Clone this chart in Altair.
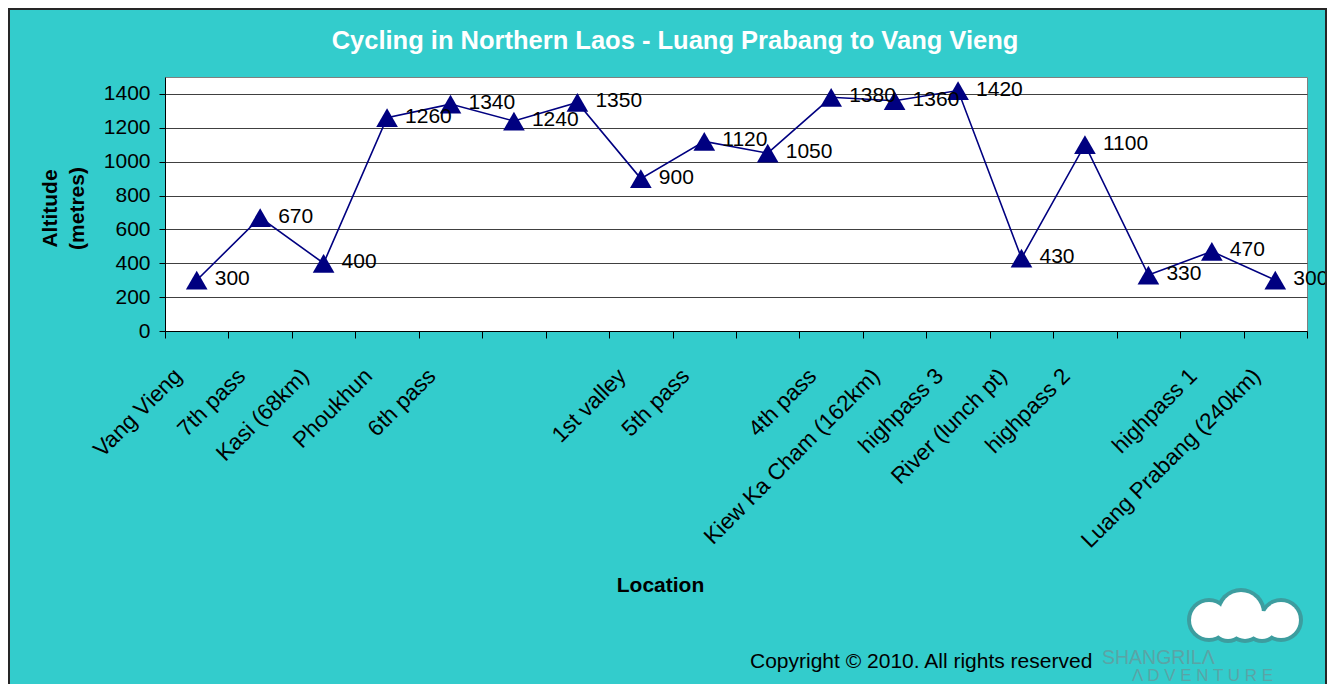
import altair as alt
import pandas as pd

# ---- data -------------------------------------------------------------
locations = ["Vang Vieng", "7th pass", "Kasi (68km)", "Phoukhun", "6th pass", "", "",
             "1st valley", "5th pass", "", "4th pass", "Kiew Ka Cham (162km)",
             "highpass 3", "River (lunch pt)", "highpass 2", "", "highpass 1",
             "Luang Prabang (240km)"]
altitudes = [300, 670, 400, 1260, 1340, 1240, 1350, 900, 1120, 1050, 1380, 1360,
             1420, 430, 1100, 330, 470, 300]
y_ticks = [0, 200, 400, 600, 800, 1000, 1200, 1400]

title_text = "Cycling in Northern Laos - Luang Prabang to Vang Vieng"
x_title = "Location"
y_title = ["Altitude", "(metres)"]
copyright_text = "Copyright \u00a9 2010. All rights reserved"
logo_line1 = "SHANGRIL\u039b"
logo_line2 = "\u039b D V E N T U R E"

# cloud decoration (screen px: cx, cy, outer radius)
cloud_cx = [1241, 1209, 1281, 1245, 1228, 1262]
cloud_cy = [613, 620, 620, 624, 625, 625]
cloud_r = [25, 22, 22, 19, 18, 18]

# ---- layout ------------------------------------------------------------
W, H = 1142, 254
PL, PT, PR, PB = 157, 69, 20, 353
OX, OY = 165, 77  # screen position of plot area

FONT = "Liberation Sans"
NAVY = "#000080"
BG = "#33CCCC"

df = pd.DataFrame({"idx": list(range(len(altitudes))), "alt": altitudes})
label_expr = "[" + ",".join("'" + s.replace("'", "\\'") + "'" for s in locations) + "][datum.value]"

x_enc = alt.X("idx:O",
              scale=alt.Scale(type="band", paddingInner=0, paddingOuter=0),
              axis=alt.Axis(title=x_title, labelExpr=label_expr, labelAngle=-45,
                            labelAlign="right", labelBaseline="alphabetic",
                            labelOffset=-14, labelPadding=39, labelOverlap=False,
                            labelBound=False, labelFlush=False, labelLimit=0,
                            labelFontSize=22.5, labelFont=FONT, labelColor="black",
                            tickBand="extent", tickSize=7, tickColor="black",
                            domainColor="black", grid=False,
                            titleFont=FONT, titleFontSize=21, titleFontWeight="bold",
                            titleColor="black", titleX=495, titleY=260,
                            titleAlign="center", titleBaseline="alphabetic"))
y_enc = alt.Y("alt:Q",
              scale=alt.Scale(domain=[0, 1500], nice=False),
              axis=alt.Axis(title=y_title, values=y_ticks, format="d", grid=True,
                            labelOverlap=False,
                            gridColor="#404040", gridWidth=1,
                            labelFontSize=21, labelFont=FONT, labelColor="black",
                            labelPadding=9, tickSize=6, tickColor="black",
                            domainColor="black",
                            titleFont=FONT, titleFontSize=21, titleFontWeight="bold",
                            titleColor="black", titleX=-109, titleY=131,
                            titleAngle=-90, titleAlign="center",
                            titleBaseline="alphabetic", titleLineHeight=27))

base = alt.Chart(df)
line = base.mark_line(color=NAVY, strokeWidth=1.6).encode(x=x_enc, y=y_enc)
pts = base.mark_point(shape="triangle-up", filled=True, color=NAVY, size=470,
                      opacity=1).encode(x=x_enc, y=y_enc)
labels = base.mark_text(align="left", baseline="middle", dx=18, dy=-1,
                        font=FONT, fontSize=21, color="black").encode(
    x=x_enc, y=y_enc, text="alt:Q")

one = alt.Data(values=[{"a": 1}])


def txt(text, x, y, size, weight="normal", color="black", align="left", font=FONT):
    return alt.Chart(one).mark_text(text=text, align=align, baseline="alphabetic",
                                    font=font, fontSize=size, fontWeight=weight,
                                    color=color).encode(x=alt.value(x), y=alt.value(y))


title = txt(title_text, 675 - OX, 49 - OY, 25.5, "bold", "white", "center")
copy = txt(copyright_text, 750 - OX, 668 - OY, 21)
logo1 = txt(logo_line1, 1102 - OX, 664 - OY, 19.5, color="#5aa4a6")
logo2 = txt(logo_line2, 1132 - OX, 681 - OY, 17, color="#5aa4a6")

cloud_df = pd.DataFrame({"cx": [c - OX for c in cloud_cx],
                         "cy": [c - OY for c in cloud_cy],
                         "outer": [(2 * r) ** 2 for r in cloud_r],
                         "inner": [(2 * (r - 4)) ** 2 for r in cloud_r]})
cloud_out = alt.Chart(cloud_df).mark_circle(color="#3d9d9f", opacity=1).encode(
    x=alt.X("cx:Q", scale=None), y=alt.Y("cy:Q", scale=None),
    size=alt.Size("outer:Q", scale=None, legend=None))
cloud_in = alt.Chart(cloud_df).mark_circle(color="white", opacity=1).encode(
    x=alt.X("cx:Q", scale=None), y=alt.Y("cy:Q", scale=None),
    size=alt.Size("inner:Q", scale=None, legend=None))

border = alt.Chart(one).mark_rect(fill=None, stroke="#262626", strokeWidth=2).encode(
    x=alt.value(-PL + 1), x2=alt.value(W + PR - 1),
    y=alt.value(-PT + 1), y2=alt.value(H + PB + 20))

chart = alt.layer(line, pts, labels, title, copy, logo1, logo2, cloud_out, cloud_in,
                  border).properties(
    width=W, height=H,
    autosize=alt.AutoSizeParams(type="none"),
    padding={"left": PL, "top": PT, "right": PR, "bottom": PB},
    background=BG,
).configure_view(fill="white", stroke="#808080", strokeWidth=1)

chart.save("out.html", embed_options={"renderer": "svg", "actions": False})
